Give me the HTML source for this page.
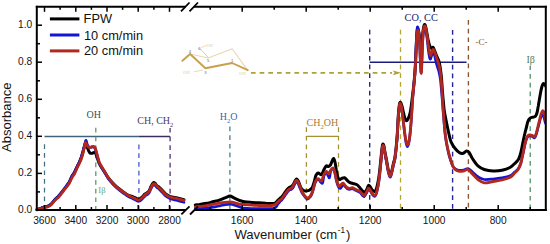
<!DOCTYPE html>
<html><head><meta charset="utf-8"><style>
html,body{margin:0;padding:0;background:#fff;width:550px;height:244px;overflow:hidden}
svg{display:block}
</style></head><body>
<svg width="550" height="244" viewBox="0 0 550 244">
<rect width="550" height="244" fill="#fff"/>

<line x1="44.5" y1="136.5" x2="138.9" y2="136.5" stroke="#3d6478" stroke-width="1.30"/>
<line x1="138.9" y1="136.5" x2="170.1" y2="136.5" stroke="#3c2d62" stroke-width="1.30"/>
<line x1="44.5" y1="144.3" x2="44.5" y2="210.0" stroke="#3f7088" stroke-width="1.25" stroke-dasharray="4.7,4"/>
<line x1="95.8" y1="127.8" x2="95.8" y2="210.0" stroke="#5a9466" stroke-width="1.25" stroke-dasharray="4.7,4"/>
<line x1="138.9" y1="144.6" x2="138.9" y2="210.0" stroke="#4a58d0" stroke-width="1.30" stroke-dasharray="4.7,4"/>
<line x1="170.1" y1="127.9" x2="170.1" y2="210.0" stroke="#573878" stroke-width="1.35" stroke-dasharray="4.7,4"/>
<line x1="229.9" y1="126.5" x2="229.9" y2="210.0" stroke="#3f7a8e" stroke-width="1.25" stroke-dasharray="4.7,4"/>
<line x1="306.4" y1="136.3" x2="338.5" y2="136.3" stroke="#a88f35" stroke-width="1.30"/>
<line x1="306.4" y1="127.2" x2="306.4" y2="210.0" stroke="#a39032" stroke-width="1.25" stroke-dasharray="4.7,4"/>
<line x1="338.5" y1="127.2" x2="338.5" y2="210.0" stroke="#a39032" stroke-width="1.25" stroke-dasharray="4.7,4"/>
<line x1="369.7" y1="62.2" x2="466.5" y2="62.2" stroke="#1a1a80" stroke-width="1.40"/>
<line x1="369.7" y1="29.8" x2="369.7" y2="210.0" stroke="#28287f" stroke-width="1.40" stroke-dasharray="4.7,4"/>
<line x1="452.6" y1="30.0" x2="452.6" y2="210.0" stroke="#24249a" stroke-width="1.40" stroke-dasharray="4.7,4"/>
<line x1="400.5" y1="29.8" x2="400.5" y2="210.0" stroke="#b5a535" stroke-width="1.30" stroke-dasharray="4.7,4"/>
<line x1="468.4" y1="20.0" x2="468.4" y2="210.0" stroke="#8a5530" stroke-width="1.35" stroke-dasharray="4.7,4"/>
<line x1="530.2" y1="65.4" x2="530.2" y2="210.0" stroke="#4a8a62" stroke-width="1.25" stroke-dasharray="4.7,4"/>
<line x1="250.9" y1="72.8" x2="392.0" y2="72.8" stroke="#b0a038" stroke-width="1.70" stroke-dasharray="4.7,4"/>
<path d="M392.8 70.4 L401 72.8 L392.8 75.2 L394.6 72.8 Z" fill="#b0a030"/>

<g fill="none" stroke-linecap="round" stroke-linejoin="round">
<path d="M190.1 54 L208.2 58 L232.1 48.8 L246.9 69.1" stroke="#e8d8b0" stroke-width="1.1"/>
<path d="M200.8 49.3 L208.2 57.5" stroke="#d8c8a0" stroke-width="0.9"/>
<path d="M202 47.3 L205.5 45.8" stroke="#e0d0a8" stroke-width="0.8"/>
<path d="M194.4 71.6 L202.6 70.2" stroke="#e0d0a8" stroke-width="0.8"/>
<path d="M182.4 60.8 L190.1 54 L205.4 68.2 L232.1 63 L247.8 70.2" stroke="#c8a04c" stroke-width="1.9"/>
</g>
<g font-family="&quot;Liberation Sans&quot;, sans-serif" font-size="4.2" fill="#7a6a58">
<text x="188.8" y="52.5">4</text><text x="207" y="61.8">5</text><text x="231" y="61.5">1</text><text x="204.2" y="73.8">3</text>
<text x="198.2" y="49.7" fill="#505070">6</text>
</g>
<g font-family="&quot;Liberation Serif&quot;, serif" font-size="4.6" fill="#dccca0">
<text x="206.3" y="46.8">OH</text><text x="183.2" y="73.6">OH</text><text x="239.2" y="75.3">OH</text>
</g>

<path d="M37.0 209.5 C37.7 209.3 39.8 208.7 41.0 208.3 C42.2 207.9 42.8 207.6 44.0 207.2 C45.2 206.8 46.8 206.6 48.0 206.1 C49.2 205.6 50.0 205.2 51.2 204.1 C52.4 203.0 53.7 200.9 55.0 199.6 C56.3 198.3 57.6 197.3 58.8 196.1 C60.0 194.8 61.0 193.4 62.0 192.1 C63.0 190.8 63.8 189.7 65.0 188.1 C66.2 186.5 67.8 184.7 69.0 182.7 C70.2 180.7 71.1 178.0 72.0 176.3 C72.9 174.6 73.7 174.1 74.5 172.5 C75.3 170.9 76.2 168.8 77.0 167.0 C77.8 165.2 78.8 163.6 79.5 162.0 C80.2 160.4 80.8 159.1 81.3 157.5 C81.8 155.9 82.3 154.2 82.8 152.5 C83.3 150.8 83.6 149.1 84.1 147.5 C84.6 145.9 85.1 143.2 85.6 143.0 C86.1 142.8 86.5 145.2 87.0 146.5 C87.5 147.8 88.0 149.4 88.5 150.5 C89.0 151.6 89.4 152.5 90.0 153.0 C90.6 153.5 91.3 153.4 92.0 153.3 C92.7 153.2 93.4 152.6 94.0 152.5 C94.6 152.4 95.0 152.2 95.5 153.0 C96.0 153.8 96.4 155.3 97.0 157.0 C97.6 158.7 98.3 161.4 99.0 163.0 C99.7 164.6 100.2 165.2 101.0 166.5 C101.8 167.8 102.8 169.2 104.0 171.0 C105.2 172.8 106.5 175.2 108.0 177.3 C109.5 179.4 111.3 181.5 113.0 183.3 C114.7 185.1 116.3 186.6 118.0 188.0 C119.7 189.4 121.3 190.6 123.0 191.8 C124.7 193.0 126.3 194.2 128.0 195.0 C129.7 195.8 131.7 196.3 133.0 196.8 C134.3 197.3 135.0 197.8 136.0 198.2 C137.0 198.6 138.0 199.4 139.0 199.2 C140.0 199.0 141.0 198.1 142.0 197.2 C143.0 196.3 144.2 194.7 145.0 194.0 C145.8 193.3 146.3 193.3 147.0 192.8 C147.7 192.3 148.3 192.1 149.0 191.0 C149.7 189.9 150.3 187.9 151.0 186.5 C151.7 185.1 152.5 183.4 153.2 182.8 C153.9 182.2 154.4 182.7 155.0 183.2 C155.6 183.7 156.2 185.1 157.0 185.8 C157.8 186.5 158.6 186.8 159.5 187.6 C160.4 188.4 161.6 189.7 162.7 190.8 C163.8 191.9 164.7 193.2 166.0 194.2 C167.3 195.2 168.6 196.0 170.5 196.6 C172.4 197.2 175.1 197.5 177.3 198.0 C179.6 198.5 182.9 199.4 184.0 199.7" fill="none" stroke="#000" stroke-width="3.0" stroke-linejoin="round" stroke-linecap="round"/>
<path d="M37.0 209.5 C37.7 209.3 39.8 208.6 41.0 208.2 C42.2 207.8 42.8 207.4 44.0 207.0 C45.2 206.6 46.8 206.4 48.0 205.9 C49.2 205.4 50.0 205.0 51.2 203.9 C52.4 202.8 53.7 200.7 55.0 199.3 C56.3 197.9 57.6 197.0 58.8 195.7 C60.0 194.4 61.0 193.0 62.0 191.7 C63.0 190.4 63.8 189.3 65.0 187.7 C66.2 186.1 67.8 184.2 69.0 182.3 C70.2 180.4 71.1 177.7 72.0 176.0 C72.9 174.3 73.7 173.8 74.5 172.2 C75.3 170.6 76.2 168.5 77.0 166.7 C77.8 164.9 78.8 163.2 79.5 161.6 C80.2 160.0 80.8 158.6 81.3 157.0 C81.8 155.4 82.3 153.7 82.8 152.0 C83.3 150.3 83.6 148.7 84.1 146.8 C84.6 144.9 85.4 140.8 85.9 140.4 C86.4 140.0 86.8 143.4 87.3 144.5 C87.8 145.6 88.4 146.5 89.0 147.0 C89.6 147.5 90.3 147.3 91.0 147.3 C91.7 147.3 92.3 146.8 93.0 147.0 C93.7 147.2 94.3 147.2 95.0 148.5 C95.7 149.8 96.3 152.7 97.0 155.0 C97.7 157.3 98.3 160.6 99.0 162.5 C99.7 164.4 100.2 165.0 101.0 166.5 C101.8 168.0 102.8 169.6 104.0 171.5 C105.2 173.4 106.5 176.0 108.0 178.1 C109.5 180.2 111.3 182.5 113.0 184.3 C114.7 186.1 116.3 187.6 118.0 189.0 C119.7 190.4 121.3 191.6 123.0 192.8 C124.7 194.0 126.3 195.3 128.0 196.3 C129.7 197.3 131.7 198.0 133.0 198.7 C134.3 199.4 135.0 199.9 136.0 200.3 C137.0 200.7 138.0 201.5 139.0 201.3 C140.0 201.1 141.0 200.1 142.0 199.2 C143.0 198.3 144.2 196.8 145.0 196.0 C145.8 195.2 146.3 195.1 147.0 194.6 C147.7 194.1 148.3 194.0 149.0 193.0 C149.7 192.0 150.3 190.0 151.0 188.7 C151.7 187.4 152.3 185.9 153.0 185.3 C153.7 184.7 154.3 184.9 155.0 185.3 C155.7 185.7 156.2 186.8 157.0 187.5 C157.8 188.2 158.6 188.6 159.5 189.5 C160.4 190.4 161.6 191.7 162.7 192.8 C163.8 193.9 164.7 195.3 166.0 196.3 C167.3 197.3 168.6 198.1 170.5 198.8 C172.4 199.5 175.1 199.9 177.3 200.5 C179.6 201.1 182.9 202.0 184.0 202.3" fill="none" stroke="#1414d2" stroke-width="2.7" stroke-linejoin="round" stroke-linecap="round"/>
<path d="M37.0 209.8 C37.7 209.6 39.8 209.0 41.0 208.7 C42.2 208.3 42.8 208.0 44.0 207.7 C45.2 207.4 46.8 207.2 48.0 206.7 C49.2 206.2 50.0 205.8 51.2 204.7 C52.4 203.6 53.7 201.6 55.0 200.3 C56.3 199.0 57.6 198.1 58.8 196.9 C60.0 195.7 61.0 194.2 62.0 192.9 C63.0 191.6 63.8 190.4 65.0 188.9 C66.2 187.4 67.8 185.6 69.0 183.7 C70.2 181.8 71.1 179.2 72.0 177.6 C72.9 175.9 73.7 175.4 74.5 173.8 C75.3 172.2 76.2 170.1 77.0 168.3 C77.8 166.5 78.8 164.8 79.5 163.2 C80.2 161.6 80.8 160.3 81.3 158.8 C81.8 157.3 82.3 155.7 82.8 154.0 C83.3 152.3 83.6 150.4 84.1 148.5 C84.5 146.6 85.1 143.5 85.5 142.8 C85.9 142.1 86.0 143.8 86.5 144.5 C87.0 145.2 87.8 146.9 88.6 147.3 C89.3 147.7 90.3 147.2 91.0 147.0 C91.7 146.8 92.3 146.2 93.0 146.3 C93.7 146.4 94.3 146.2 95.0 147.5 C95.7 148.8 96.3 151.7 97.0 154.0 C97.7 156.3 98.3 159.6 99.0 161.5 C99.7 163.4 100.2 164.0 101.0 165.5 C101.8 167.0 102.8 168.6 104.0 170.5 C105.2 172.4 106.5 175.0 108.0 177.2 C109.5 179.4 111.3 181.7 113.0 183.5 C114.7 185.3 116.3 186.8 118.0 188.2 C119.7 189.6 121.3 190.7 123.0 191.9 C124.7 193.1 126.3 194.3 128.0 195.2 C129.7 196.1 131.7 196.8 133.0 197.4 C134.3 198.0 135.0 198.6 136.0 199.0 C137.0 199.4 138.0 200.2 139.0 200.0 C140.0 199.8 141.0 198.9 142.0 198.0 C143.0 197.1 144.2 195.6 145.0 194.8 C145.8 194.0 146.3 193.9 147.0 193.4 C147.7 192.9 148.3 192.8 149.0 191.8 C149.7 190.8 150.3 188.8 151.0 187.5 C151.7 186.2 152.3 184.6 153.0 184.0 C153.7 183.4 154.3 183.6 155.0 184.0 C155.7 184.4 156.2 185.6 157.0 186.3 C157.8 187.0 158.6 187.3 159.5 188.2 C160.4 189.0 161.6 190.3 162.7 191.4 C163.8 192.5 164.7 193.9 166.0 194.9 C167.3 195.9 168.6 196.6 170.5 197.2 C172.4 197.8 175.1 198.2 177.3 198.7 C179.6 199.2 182.9 200.1 184.0 200.4" fill="none" stroke="#b3281c" stroke-width="2.8" stroke-linejoin="round" stroke-linecap="round"/>
<clipPath id="cr"><rect x="190" y="0" width="355.8" height="244"/></clipPath><g clip-path="url(#cr)">
<path d="M195.3 204.9 C196.1 204.8 198.4 204.6 200.0 204.4 C201.6 204.2 203.3 203.9 205.0 203.6 C206.7 203.3 208.3 203.0 210.0 202.6 C211.7 202.2 213.3 201.8 215.0 201.3 C216.7 200.9 218.3 200.5 220.0 199.9 C221.7 199.3 223.3 198.5 225.0 197.8 C226.7 197.2 228.7 196.1 230.0 196.0 C231.3 195.9 231.8 196.8 233.0 197.4 C234.2 198.0 235.8 198.8 237.0 199.3 C238.2 199.9 239.2 200.3 240.5 200.7 C241.8 201.1 242.6 201.5 244.5 201.8 C246.4 202.1 249.6 202.3 252.0 202.5 C254.4 202.7 256.7 202.6 259.0 202.7 C261.3 202.8 263.8 203.0 266.0 203.2 C268.2 203.3 270.5 203.6 272.0 203.6 C273.5 203.6 274.2 203.5 275.2 203.0 C276.2 202.5 277.0 201.2 277.8 200.5 C278.6 199.8 279.2 199.1 279.8 198.5 C280.4 197.9 281.1 197.7 281.7 197.0 C282.3 196.3 283.0 195.2 283.7 194.3 C284.4 193.4 285.0 192.4 285.7 191.5 C286.4 190.6 287.0 189.7 287.6 189.0 C288.2 188.3 289.0 187.7 289.6 187.3 C290.2 186.9 290.9 187.0 291.5 186.5 C292.1 186.0 292.8 185.2 293.4 184.3 C294.0 183.4 294.5 181.9 295.0 181.0 C295.5 180.1 296.1 179.1 296.6 179.0 C297.1 178.9 297.5 179.7 298.0 180.5 C298.5 181.3 299.0 182.8 299.5 184.0 C300.0 185.2 300.4 186.9 301.1 188.0 C301.8 189.1 302.8 190.0 303.6 190.5 C304.4 191.0 305.2 191.1 306.1 191.0 C307.1 190.9 308.3 190.8 309.3 190.2 C310.3 189.6 311.5 188.9 312.3 187.5 C313.1 186.1 313.7 183.5 314.3 181.5 C314.9 179.5 315.2 176.9 315.9 175.5 C316.5 174.1 317.3 173.2 318.2 173.0 C319.1 172.8 320.6 175.2 321.5 174.6 C322.4 174.0 323.1 171.2 323.9 169.7 C324.7 168.2 325.6 166.3 326.4 165.8 C327.1 165.3 327.7 166.8 328.4 166.6 C329.1 166.4 329.9 165.7 330.5 164.8 C331.1 163.9 331.6 162.1 332.1 161.0 C332.7 159.9 333.3 158.2 333.8 158.5 C334.3 158.8 334.7 160.8 335.2 163.0 C335.7 165.2 336.1 169.6 336.6 172.0 C337.1 174.4 337.5 176.2 338.0 177.5 C338.5 178.8 338.9 179.4 339.5 179.5 C340.1 179.6 341.1 178.6 341.9 178.3 C342.7 178.0 343.7 177.6 344.5 177.8 C345.3 178.0 345.9 179.0 346.5 179.6 C347.1 180.2 347.6 181.0 348.4 181.6 C349.1 182.2 350.1 182.7 351.0 183.0 C351.9 183.3 352.8 183.5 353.7 183.7 C354.6 183.9 355.6 184.1 356.3 184.4 C357.1 184.7 357.6 185.1 358.2 185.7 C358.8 186.3 359.4 187.2 360.2 188.2 C361.0 189.1 362.1 190.7 362.8 191.4 C363.5 192.1 363.8 192.8 364.5 192.5 C365.2 192.2 366.2 190.7 366.8 189.5 C367.4 188.3 367.9 186.1 368.4 185.6 C368.9 185.1 369.3 185.6 370.0 186.4 C370.7 187.2 371.7 189.5 372.5 190.3 C373.3 191.2 374.1 191.8 374.8 191.5 C375.5 191.2 376.0 190.1 376.5 188.5 C377.0 186.9 377.5 184.4 378.0 182.0 C378.5 179.6 378.9 177.3 379.3 174.0 C379.7 170.7 380.2 165.8 380.6 162.0 C381.0 158.2 381.4 153.9 381.7 151.0 C382.0 148.1 382.3 145.2 382.7 144.3 C383.1 143.4 383.5 144.6 383.8 145.5 C384.1 146.4 384.1 147.1 384.5 149.5 C384.9 151.9 385.8 156.4 386.5 160.0 C387.2 163.6 387.9 168.5 388.5 171.0 C389.1 173.5 389.5 174.8 390.0 175.0 C390.5 175.2 390.9 174.0 391.5 172.0 C392.1 170.0 392.9 165.5 393.5 163.0 C394.1 160.5 394.4 161.2 395.0 157.0 C395.6 152.8 396.4 145.3 397.0 138.0 C397.6 130.7 398.0 118.9 398.5 113.0 C399.0 107.1 399.3 104.2 399.8 102.8 C400.3 101.4 401.0 103.2 401.5 104.5 C402.0 105.8 402.5 108.4 403.0 110.5 C403.5 112.6 404.0 115.3 404.5 117.0 C405.0 118.7 405.5 120.0 406.0 120.5 C406.5 121.0 407.0 120.7 407.5 120.0 C408.0 119.3 408.5 118.0 409.0 116.5 C409.5 115.0 410.0 114.0 410.5 111.0 C411.0 108.0 411.7 102.7 412.2 98.5 C412.7 94.3 413.3 89.7 413.7 85.6 C414.1 81.5 414.5 78.1 414.8 74.0 C415.1 69.9 415.4 65.5 415.6 61.0 C415.8 56.5 416.0 51.2 416.2 47.0 C416.4 42.8 416.6 38.8 416.8 36.0 C417.0 33.2 417.1 31.2 417.3 30.0 C417.5 28.8 417.7 28.8 417.9 29.0 C418.1 29.2 418.4 30.0 418.7 31.5 C419.0 33.0 419.3 35.6 419.6 38.0 C419.9 40.4 420.2 44.0 420.4 46.0 C420.6 48.0 420.8 50.2 421.0 50.0 C421.2 49.8 421.4 47.3 421.7 45.0 C421.9 42.7 422.2 38.7 422.5 36.0 C422.8 33.3 423.0 30.8 423.3 29.0 C423.6 27.2 423.9 25.7 424.2 25.0 C424.5 24.3 424.9 24.3 425.2 25.0 C425.5 25.7 425.7 26.6 426.2 29.0 C426.7 31.4 427.4 36.6 428.0 39.5 C428.6 42.4 429.4 45.0 430.0 46.5 C430.6 48.0 431.0 48.4 431.5 48.5 C432.0 48.6 432.5 47.0 433.0 47.3 C433.5 47.6 433.9 49.2 434.5 50.5 C435.1 51.8 435.7 53.5 436.3 55.0 C436.9 56.5 437.8 58.3 438.3 59.6 C438.8 60.9 439.0 61.4 439.4 63.0 C439.8 64.6 440.1 66.7 440.4 69.0 C440.7 71.3 441.1 73.8 441.4 77.0 C441.7 80.2 441.9 84.2 442.2 88.0 C442.5 91.8 442.8 96.2 443.2 100.0 C443.6 103.8 443.8 107.7 444.3 111.0 C444.8 114.3 445.3 116.5 446.0 120.0 C446.7 123.5 447.7 128.4 448.5 132.0 C449.3 135.6 450.0 139.1 451.0 141.8 C452.0 144.5 453.3 146.2 454.7 148.0 C456.1 149.8 458.2 151.9 459.6 152.8 C461.0 153.7 462.2 153.6 463.3 153.3 C464.4 153.0 465.5 151.1 466.5 151.0 C467.5 150.9 468.4 151.6 469.4 152.8 C470.4 154.1 470.9 156.3 472.4 158.5 C473.9 160.7 476.3 164.4 478.3 166.2 C480.3 168.0 481.8 168.7 484.2 169.5 C486.6 170.3 490.0 170.9 493.0 171.0 C496.0 171.1 499.2 170.9 502.0 170.3 C504.8 169.7 507.9 168.6 510.0 167.5 C512.1 166.4 513.3 164.8 514.7 163.5 C516.1 162.2 517.4 161.2 518.4 159.5 C519.4 157.8 520.0 155.7 520.6 153.5 C521.2 151.3 521.6 148.9 522.1 146.5 C522.6 144.1 523.1 141.3 523.6 139.0 C524.1 136.7 524.6 134.5 525.1 132.5 C525.6 130.5 526.0 128.8 526.5 127.0 C527.0 125.2 527.3 123.1 527.8 121.8 C528.3 120.5 528.7 119.7 529.3 119.0 C529.9 118.3 530.7 117.8 531.3 117.5 C531.9 117.2 532.5 117.3 533.0 117.2 C533.5 117.1 534.1 117.1 534.6 116.8 C535.1 116.5 535.6 116.1 536.0 115.3 C536.4 114.5 536.8 113.5 537.2 112.0 C537.6 110.5 537.9 108.0 538.3 106.0 C538.6 104.0 538.9 102.2 539.3 100.0 C539.7 97.8 540.1 95.2 540.5 93.0 C540.9 90.8 541.4 88.5 541.8 87.0 C542.2 85.5 542.6 84.5 543.0 84.0 C543.4 83.5 543.8 83.6 544.3 84.0 C544.8 84.4 545.7 86.1 546.0 86.5" fill="none" stroke="#000" stroke-width="3.0" stroke-linejoin="round" stroke-linecap="round"/>
<path d="M195.3 208.6 C196.1 208.6 198.4 208.6 200.0 208.5 C201.6 208.4 203.3 208.3 205.0 208.2 C206.7 208.0 208.3 207.8 210.0 207.6 C211.7 207.4 213.3 207.1 215.0 206.8 C216.7 206.5 218.3 206.2 220.0 205.8 C221.7 205.5 223.3 205.0 225.0 204.7 C226.7 204.4 228.7 204.1 230.0 204.1 C231.3 204.1 231.8 204.3 233.0 204.6 C234.2 204.9 235.8 205.6 237.0 206.0 C238.2 206.4 239.2 206.9 240.5 207.3 C241.8 207.7 242.6 208.0 244.5 208.2 C246.4 208.4 249.4 208.5 252.0 208.6 C254.6 208.7 257.7 208.7 260.0 208.7 C262.3 208.7 263.8 208.7 266.0 208.7 C268.2 208.7 271.3 208.8 273.0 208.5 C274.7 208.2 275.2 207.8 276.0 207.0 C276.8 206.2 277.3 204.9 278.0 204.0 C278.7 203.1 279.4 202.2 280.0 201.5 C280.6 200.8 281.1 200.7 281.7 200.0 C282.3 199.3 283.0 198.2 283.7 197.3 C284.4 196.4 285.0 195.4 285.7 194.5 C286.4 193.6 287.0 192.6 287.6 191.8 C288.2 191.1 289.0 190.4 289.6 190.0 C290.2 189.6 290.9 189.8 291.5 189.3 C292.1 188.8 292.8 188.0 293.4 187.0 C294.0 186.0 294.5 184.4 295.0 183.5 C295.5 182.6 295.8 181.7 296.3 181.5 C296.8 181.3 297.3 181.6 297.8 182.5 C298.3 183.4 298.9 185.6 299.5 187.0 C300.1 188.4 300.6 189.8 301.2 191.0 C301.8 192.2 301.9 192.7 302.8 194.0 C303.8 195.3 305.7 198.5 306.9 199.0 C308.1 199.5 309.2 198.2 310.2 197.0 C311.1 195.8 311.8 194.3 312.6 192.0 C313.4 189.7 314.2 185.1 315.1 183.0 C316.0 180.9 317.0 179.4 318.2 179.5 C319.4 179.6 321.4 184.1 322.3 183.5 C323.2 182.9 323.2 177.8 323.9 176.0 C324.6 174.2 325.5 172.2 326.4 172.5 C327.3 172.8 328.6 178.1 329.3 178.0 C330.0 177.9 329.9 173.6 330.5 172.0 C331.1 170.4 332.3 168.5 333.0 168.5 C333.7 168.5 334.0 169.8 334.6 172.0 C335.2 174.2 336.0 179.0 336.6 181.5 C337.2 184.0 337.9 185.8 338.5 187.0 C339.1 188.2 339.5 188.5 340.0 188.5 C340.5 188.5 341.0 187.7 341.5 187.0 C342.0 186.3 342.6 184.6 343.2 184.5 C343.8 184.4 344.5 185.8 345.1 186.5 C345.8 187.2 346.3 188.0 347.1 188.5 C347.9 189.0 348.8 189.3 349.7 189.3 C350.6 189.3 351.4 188.6 352.3 188.7 C353.2 188.8 354.1 189.6 355.0 190.0 C355.9 190.4 356.7 190.9 357.6 191.3 C358.5 191.7 359.4 192.0 360.2 192.6 C361.0 193.2 361.5 194.3 362.2 195.0 C362.9 195.7 363.5 196.9 364.3 196.5 C365.1 196.1 366.1 193.8 366.8 192.5 C367.5 191.2 367.9 189.3 368.4 189.0 C368.9 188.7 369.3 189.6 370.0 190.5 C370.7 191.4 371.7 193.6 372.5 194.6 C373.3 195.6 374.3 196.6 375.0 196.3 C375.7 196.0 376.1 194.8 376.6 193.0 C377.1 191.2 377.7 188.4 378.2 185.5 C378.7 182.6 379.2 179.2 379.6 175.5 C380.0 171.8 380.4 167.2 380.8 163.5 C381.2 159.8 381.5 155.9 381.8 153.0 C382.1 150.1 382.5 147.1 382.9 146.2 C383.3 145.3 383.8 146.7 384.1 147.5 C384.4 148.3 384.1 148.6 384.5 151.0 C384.9 153.4 385.8 158.3 386.5 162.0 C387.2 165.7 387.9 170.5 388.5 173.0 C389.1 175.5 389.5 176.8 390.0 177.0 C390.5 177.2 390.9 176.0 391.5 174.0 C392.1 172.0 392.9 167.6 393.5 165.0 C394.1 162.4 394.4 162.8 395.0 158.5 C395.6 154.2 396.4 146.8 397.0 139.5 C397.6 132.2 398.0 120.4 398.5 114.5 C399.0 108.6 399.3 105.4 399.8 104.3 C400.3 103.2 401.0 105.5 401.5 108.0 C402.0 110.5 402.5 115.0 403.0 119.0 C403.5 123.0 404.0 128.1 404.5 132.0 C405.0 135.9 405.5 140.1 406.0 142.5 C406.5 144.9 406.9 146.3 407.3 146.5 C407.8 146.7 408.2 145.4 408.7 143.5 C409.1 141.6 409.5 139.4 410.0 135.0 C410.5 130.6 411.1 123.0 411.5 117.0 C411.9 111.0 412.2 104.2 412.6 99.0 C413.0 93.8 413.4 89.6 413.8 85.5 C414.2 81.4 414.5 78.6 414.8 74.5 C415.1 70.4 415.3 65.8 415.5 61.0 C415.7 56.2 415.9 50.5 416.1 46.0 C416.3 41.5 416.5 37.1 416.7 34.0 C416.9 30.9 417.1 28.6 417.3 27.5 C417.5 26.4 417.7 26.9 417.9 27.5 C418.1 28.1 418.4 28.9 418.6 31.0 C418.9 33.1 419.1 35.5 419.4 40.0 C419.7 44.5 420.0 53.0 420.2 58.0 C420.4 63.0 420.6 67.5 420.8 70.0 C421.0 72.5 421.0 73.0 421.1 73.0 C421.2 73.0 421.4 72.5 421.5 70.0 C421.6 67.5 421.8 62.5 422.0 58.0 C422.2 53.5 422.4 47.2 422.6 43.0 C422.8 38.8 423.0 35.5 423.3 33.0 C423.6 30.5 423.9 28.8 424.2 28.0 C424.5 27.2 424.9 27.3 425.2 28.0 C425.5 28.7 425.8 29.8 426.2 32.0 C426.6 34.2 427.0 37.8 427.4 41.0 C427.8 44.2 428.1 48.0 428.5 51.0 C428.9 54.0 429.6 58.2 430.1 59.0 C430.6 59.8 431.0 57.2 431.5 56.0 C432.0 54.8 432.5 52.2 433.0 52.0 C433.5 51.8 434.0 53.3 434.5 55.0 C435.0 56.7 435.5 60.0 436.0 62.0 C436.5 64.0 437.0 65.3 437.5 67.0 C438.0 68.7 438.5 69.8 439.0 72.0 C439.5 74.2 440.1 76.7 440.5 80.0 C440.9 83.3 441.2 88.0 441.6 92.0 C442.0 96.0 442.3 99.8 442.6 104.0 C442.9 108.2 443.2 112.5 443.6 117.0 C444.0 121.5 444.4 127.0 444.8 131.0 C445.2 135.0 445.5 137.3 446.1 141.0 C446.7 144.7 447.8 149.8 448.5 153.0 C449.2 156.2 449.7 157.7 450.5 160.0 C451.3 162.3 452.1 165.3 453.3 167.0 C454.5 168.7 456.0 169.5 457.7 170.0 C459.4 170.5 461.9 170.2 463.6 170.0 C465.3 169.8 466.5 168.2 468.0 168.5 C469.5 168.8 470.7 170.6 472.4 172.0 C474.1 173.4 476.3 175.8 478.3 177.0 C480.3 178.2 481.7 179.2 484.2 179.5 C486.7 179.8 490.2 179.3 493.1 179.0 C496.1 178.7 498.9 178.4 501.9 177.8 C504.8 177.2 508.7 176.5 510.8 175.5 C512.9 174.5 513.4 173.2 514.7 172.0 C516.0 170.8 517.4 170.0 518.4 168.5 C519.4 167.0 520.2 165.1 520.9 163.0 C521.6 160.9 522.0 158.0 522.5 156.0 C523.0 154.0 523.2 153.0 523.6 151.0 C524.0 149.0 524.6 146.0 525.1 144.0 C525.6 142.0 526.0 140.2 526.5 139.0 C527.0 137.8 527.4 137.0 528.0 136.5 C528.6 136.0 529.5 136.0 530.2 136.0 C530.9 136.0 531.7 136.2 532.4 136.5 C533.1 136.8 533.9 138.1 534.5 137.8 C535.1 137.5 535.7 136.1 536.2 134.5 C536.8 132.9 537.2 130.6 537.8 128.5 C538.3 126.4 539.0 124.0 539.5 122.0 C540.0 120.0 540.6 117.7 541.1 116.5 C541.6 115.3 542.1 114.8 542.6 115.0 C543.1 115.2 543.6 116.2 544.0 117.5 C544.4 118.8 544.9 121.4 545.2 122.5 C545.5 123.6 545.9 123.8 546.0 124.0" fill="none" stroke="#1414d2" stroke-width="2.7" stroke-linejoin="round" stroke-linecap="round"/>
<path d="M195.3 206.9 C196.1 206.8 198.4 206.7 200.0 206.5 C201.6 206.3 203.3 206.1 205.0 205.8 C206.7 205.5 208.3 205.2 210.0 204.9 C211.7 204.6 213.3 204.3 215.0 204.0 C216.7 203.7 218.3 203.3 220.0 203.0 C221.7 202.7 223.3 202.5 225.0 202.3 C226.7 202.1 228.7 202.0 230.0 202.0 C231.3 202.0 231.8 202.2 233.0 202.4 C234.2 202.6 235.8 203.1 237.0 203.4 C238.2 203.7 239.2 204.1 240.5 204.3 C241.8 204.5 242.6 204.3 244.5 204.5 C246.4 204.7 249.6 205.0 252.0 205.2 C254.4 205.4 256.7 205.4 259.0 205.5 C261.3 205.6 263.8 205.6 266.0 205.6 C268.2 205.6 270.5 205.7 272.0 205.5 C273.5 205.3 274.2 205.1 275.2 204.5 C276.2 203.9 277.0 202.8 277.8 202.0 C278.6 201.2 279.2 200.6 279.8 200.0 C280.4 199.4 281.1 199.3 281.7 198.6 C282.3 197.9 283.0 196.9 283.7 196.0 C284.4 195.1 285.0 194.1 285.7 193.2 C286.4 192.3 287.0 191.3 287.6 190.6 C288.2 189.9 289.0 189.2 289.6 188.8 C290.2 188.4 290.9 188.6 291.5 188.0 C292.1 187.4 292.8 186.5 293.4 185.5 C294.0 184.5 294.5 182.9 295.0 182.0 C295.5 181.1 295.8 180.4 296.3 180.3 C296.8 180.2 297.3 180.5 297.8 181.3 C298.3 182.1 298.9 183.6 299.5 185.0 C300.1 186.4 300.6 188.2 301.2 189.5 C301.8 190.8 301.9 191.6 302.8 193.0 C303.8 194.4 305.7 197.4 306.9 197.9 C308.1 198.4 309.2 197.3 310.2 196.2 C311.1 195.1 311.8 193.6 312.6 191.3 C313.4 189.0 314.2 184.4 315.1 182.3 C316.0 180.2 317.1 178.9 318.2 178.7 C319.3 178.5 320.6 181.8 321.5 181.1 C322.4 180.4 323.1 176.2 323.9 174.6 C324.7 173.0 325.6 171.4 326.4 171.3 C327.2 171.2 328.2 173.9 328.9 173.8 C329.6 173.7 329.8 171.5 330.5 170.5 C331.2 169.5 332.3 167.9 333.0 168.0 C333.7 168.1 334.0 169.2 334.6 171.3 C335.2 173.4 336.0 178.1 336.6 180.5 C337.2 182.9 338.0 184.6 338.5 185.5 C339.0 186.4 339.1 186.4 339.5 186.2 C339.9 186.0 340.6 184.9 341.2 184.4 C341.8 183.9 342.5 182.9 343.2 183.1 C343.9 183.3 344.5 184.8 345.1 185.5 C345.8 186.2 346.3 187.0 347.1 187.5 C347.9 188.0 348.8 188.3 349.7 188.3 C350.6 188.3 351.4 187.6 352.3 187.7 C353.2 187.8 354.1 188.6 355.0 189.0 C355.9 189.4 356.7 189.9 357.6 190.3 C358.5 190.7 359.4 191.0 360.2 191.6 C361.0 192.2 361.5 193.4 362.2 194.0 C362.9 194.6 363.5 195.8 364.3 195.4 C365.1 195.0 366.1 192.7 366.8 191.5 C367.5 190.3 367.9 188.5 368.4 188.2 C368.9 187.9 369.3 188.8 370.0 189.7 C370.7 190.6 371.7 192.9 372.5 193.8 C373.3 194.8 374.3 195.7 375.0 195.4 C375.7 195.1 376.1 193.9 376.6 192.1 C377.1 190.3 377.7 187.7 378.2 184.8 C378.7 182.0 379.2 178.6 379.6 175.0 C380.0 171.4 380.4 166.8 380.8 163.0 C381.2 159.2 381.5 155.4 381.8 152.5 C382.1 149.6 382.4 146.5 382.8 145.6 C383.2 144.7 383.7 146.2 384.0 147.0 C384.3 147.8 384.1 148.2 384.5 150.5 C384.9 152.8 385.8 157.4 386.5 161.0 C387.2 164.6 387.9 169.5 388.5 172.0 C389.1 174.5 389.5 175.8 390.0 176.0 C390.5 176.2 390.9 175.0 391.5 173.0 C392.1 171.0 392.9 166.5 393.5 164.0 C394.1 161.5 394.4 162.2 395.0 158.0 C395.6 153.8 396.4 146.3 397.0 139.0 C397.6 131.7 398.0 119.9 398.5 114.0 C399.0 108.1 399.3 105.0 399.8 103.8 C400.3 102.6 401.0 104.6 401.5 107.0 C402.0 109.4 402.5 114.0 403.0 118.0 C403.5 122.0 404.0 127.2 404.5 131.0 C405.0 134.8 405.5 138.7 406.0 141.0 C406.5 143.3 406.9 144.8 407.3 145.0 C407.8 145.2 408.2 144.3 408.7 142.5 C409.1 140.7 409.5 138.4 410.0 134.0 C410.5 129.6 411.1 122.0 411.5 116.0 C411.9 110.0 412.3 103.2 412.7 98.0 C413.1 92.8 413.5 89.0 413.9 85.0 C414.3 81.0 414.6 78.0 414.9 74.0 C415.2 70.0 415.5 65.5 415.7 61.0 C415.9 56.5 416.1 51.2 416.3 47.0 C416.5 42.8 416.7 38.6 416.9 36.0 C417.1 33.4 417.3 32.4 417.5 31.5 C417.7 30.6 417.9 30.2 418.1 30.5 C418.3 30.8 418.6 31.6 418.8 33.5 C419.1 35.4 419.4 37.9 419.6 42.0 C419.9 46.1 420.1 53.3 420.3 58.0 C420.5 62.7 420.7 67.4 420.8 70.0 C420.9 72.6 421.1 73.5 421.2 73.5 C421.3 73.5 421.5 72.6 421.6 70.0 C421.7 67.4 421.8 62.7 422.0 58.0 C422.2 53.3 422.4 46.5 422.6 42.0 C422.8 37.5 423.0 33.6 423.3 31.0 C423.6 28.4 423.9 27.2 424.2 26.5 C424.5 25.8 424.9 25.9 425.2 26.5 C425.5 27.1 425.8 28.1 426.2 30.0 C426.6 31.9 427.0 35.3 427.4 38.0 C427.8 40.7 428.1 43.5 428.5 46.0 C428.9 48.5 429.2 51.4 429.6 53.0 C430.0 54.6 430.4 55.8 430.8 55.5 C431.2 55.2 431.8 52.0 432.2 51.0 C432.6 50.0 433.0 49.2 433.5 49.5 C434.0 49.8 434.4 51.5 435.0 53.0 C435.6 54.5 436.2 56.9 436.8 58.5 C437.4 60.1 437.9 61.1 438.3 62.5 C438.8 63.9 439.1 65.1 439.5 67.0 C439.9 68.9 440.2 71.0 440.6 74.0 C441.0 77.0 441.3 80.7 441.6 85.0 C441.9 89.3 442.3 95.0 442.6 100.0 C442.9 105.0 443.2 110.0 443.6 115.0 C444.0 120.0 444.4 125.8 444.8 130.0 C445.2 134.2 445.5 136.3 446.1 140.0 C446.7 143.7 447.8 148.8 448.5 152.0 C449.2 155.2 449.7 156.5 450.5 159.0 C451.3 161.5 452.1 165.0 453.3 167.0 C454.5 169.0 456.0 170.3 457.7 171.0 C459.4 171.7 461.9 171.2 463.6 171.0 C465.3 170.8 466.5 169.0 468.0 169.5 C469.5 170.0 470.7 172.2 472.4 173.9 C474.1 175.6 476.3 178.3 478.3 179.8 C480.3 181.3 481.7 182.5 484.2 182.8 C486.7 183.1 490.2 182.0 493.1 181.5 C496.1 181.0 498.9 180.8 501.9 180.0 C504.8 179.2 508.7 178.2 510.8 177.0 C512.9 175.8 513.4 174.3 514.7 173.0 C516.0 171.7 517.4 170.8 518.4 169.1 C519.4 167.4 520.2 165.3 520.9 163.0 C521.6 160.7 522.0 157.6 522.5 155.5 C523.0 153.4 523.2 152.6 523.6 150.5 C524.0 148.4 524.6 145.2 525.1 143.2 C525.6 141.2 526.0 139.8 526.5 138.5 C527.0 137.2 527.4 136.1 528.0 135.5 C528.6 134.9 529.5 135.0 530.2 135.0 C530.9 135.0 531.7 135.3 532.4 135.6 C533.1 135.9 533.9 137.2 534.5 136.8 C535.1 136.5 535.7 135.1 536.2 133.5 C536.8 131.9 537.2 129.2 537.8 127.0 C538.3 124.8 539.0 122.6 539.5 120.4 C540.0 118.2 540.6 115.4 541.1 113.8 C541.6 112.2 542.3 110.7 542.8 110.6 C543.3 110.5 543.8 111.9 544.2 113.3 C544.6 114.7 544.9 117.7 545.2 119.0 C545.5 120.3 545.9 120.7 546.0 121.0" fill="none" stroke="#b3281c" stroke-width="2.8" stroke-linejoin="round" stroke-linecap="round"/>
</g>
<line x1="36.8" y1="5.8" x2="36.8" y2="211.0" stroke="#000" stroke-width="2.00" />
<line x1="545.8" y1="5.8" x2="545.8" y2="211.0" stroke="#000" stroke-width="2.00" />
<line x1="35.8" y1="6.8" x2="185.4" y2="6.8" stroke="#000" stroke-width="2.00" />
<line x1="193.9" y1="6.8" x2="546.8" y2="6.8" stroke="#000" stroke-width="2.00" />
<line x1="35.8" y1="210.0" x2="186.0" y2="210.0" stroke="#000" stroke-width="2.00" />
<line x1="194.6" y1="210.0" x2="546.8" y2="210.0" stroke="#000" stroke-width="2.00" />
<line x1="181.0" y1="11.4" x2="189.5" y2="2.5" stroke="#000" stroke-width="1.80" />
<line x1="189.5" y1="11.4" x2="198.0" y2="2.5" stroke="#000" stroke-width="1.80" />
<line x1="181.4" y1="214.4" x2="189.5" y2="206.4" stroke="#000" stroke-width="1.80" />
<line x1="190.0" y1="214.5" x2="198.0" y2="206.5" stroke="#000" stroke-width="1.80" />
<line x1="36.8" y1="191.9" x2="40.0" y2="191.9" stroke="#000" stroke-width="1.50" />
<line x1="36.8" y1="173.4" x2="42.0" y2="173.4" stroke="#000" stroke-width="1.50" />
<line x1="36.8" y1="154.8" x2="40.0" y2="154.8" stroke="#000" stroke-width="1.50" />
<line x1="36.8" y1="136.3" x2="42.0" y2="136.3" stroke="#000" stroke-width="1.50" />
<line x1="36.8" y1="117.8" x2="40.0" y2="117.8" stroke="#000" stroke-width="1.50" />
<line x1="36.8" y1="99.3" x2="42.0" y2="99.3" stroke="#000" stroke-width="1.50" />
<line x1="36.8" y1="80.8" x2="40.0" y2="80.8" stroke="#000" stroke-width="1.50" />
<line x1="36.8" y1="62.2" x2="42.0" y2="62.2" stroke="#000" stroke-width="1.50" />
<line x1="36.8" y1="43.7" x2="40.0" y2="43.7" stroke="#000" stroke-width="1.50" />
<line x1="36.8" y1="25.2" x2="42.0" y2="25.2" stroke="#000" stroke-width="1.50" />
<line x1="44.5" y1="210.0" x2="44.5" y2="205.0" stroke="#000" stroke-width="1.50" />
<line x1="44.5" y1="6.8" x2="44.5" y2="11.8" stroke="#000" stroke-width="1.50" />
<line x1="60.1" y1="210.0" x2="60.1" y2="207.0" stroke="#000" stroke-width="1.50" />
<line x1="60.1" y1="6.8" x2="60.1" y2="9.8" stroke="#000" stroke-width="1.50" />
<line x1="75.8" y1="210.0" x2="75.8" y2="205.0" stroke="#000" stroke-width="1.50" />
<line x1="75.8" y1="6.8" x2="75.8" y2="11.8" stroke="#000" stroke-width="1.50" />
<line x1="91.4" y1="210.0" x2="91.4" y2="207.0" stroke="#000" stroke-width="1.50" />
<line x1="91.4" y1="6.8" x2="91.4" y2="9.8" stroke="#000" stroke-width="1.50" />
<line x1="107.0" y1="210.0" x2="107.0" y2="205.0" stroke="#000" stroke-width="1.50" />
<line x1="107.0" y1="6.8" x2="107.0" y2="11.8" stroke="#000" stroke-width="1.50" />
<line x1="122.6" y1="210.0" x2="122.6" y2="207.0" stroke="#000" stroke-width="1.50" />
<line x1="122.6" y1="6.8" x2="122.6" y2="9.8" stroke="#000" stroke-width="1.50" />
<line x1="138.2" y1="210.0" x2="138.2" y2="205.0" stroke="#000" stroke-width="1.50" />
<line x1="138.2" y1="6.8" x2="138.2" y2="11.8" stroke="#000" stroke-width="1.50" />
<line x1="153.9" y1="210.0" x2="153.9" y2="207.0" stroke="#000" stroke-width="1.50" />
<line x1="153.9" y1="6.8" x2="153.9" y2="9.8" stroke="#000" stroke-width="1.50" />
<line x1="169.5" y1="210.0" x2="169.5" y2="205.0" stroke="#000" stroke-width="1.50" />
<line x1="169.5" y1="6.8" x2="169.5" y2="11.8" stroke="#000" stroke-width="1.50" />
<line x1="210.2" y1="210.0" x2="210.2" y2="207.0" stroke="#000" stroke-width="1.50" />
<line x1="210.2" y1="6.8" x2="210.2" y2="9.8" stroke="#000" stroke-width="1.50" />
<line x1="242.2" y1="210.0" x2="242.2" y2="205.0" stroke="#000" stroke-width="1.50" />
<line x1="242.2" y1="6.8" x2="242.2" y2="11.8" stroke="#000" stroke-width="1.50" />
<line x1="274.2" y1="210.0" x2="274.2" y2="207.0" stroke="#000" stroke-width="1.50" />
<line x1="274.2" y1="6.8" x2="274.2" y2="9.8" stroke="#000" stroke-width="1.50" />
<line x1="306.2" y1="210.0" x2="306.2" y2="205.0" stroke="#000" stroke-width="1.50" />
<line x1="306.2" y1="6.8" x2="306.2" y2="11.8" stroke="#000" stroke-width="1.50" />
<line x1="338.2" y1="210.0" x2="338.2" y2="207.0" stroke="#000" stroke-width="1.50" />
<line x1="338.2" y1="6.8" x2="338.2" y2="9.8" stroke="#000" stroke-width="1.50" />
<line x1="370.2" y1="210.0" x2="370.2" y2="205.0" stroke="#000" stroke-width="1.50" />
<line x1="370.2" y1="6.8" x2="370.2" y2="11.8" stroke="#000" stroke-width="1.50" />
<line x1="402.2" y1="210.0" x2="402.2" y2="207.0" stroke="#000" stroke-width="1.50" />
<line x1="402.2" y1="6.8" x2="402.2" y2="9.8" stroke="#000" stroke-width="1.50" />
<line x1="434.2" y1="210.0" x2="434.2" y2="205.0" stroke="#000" stroke-width="1.50" />
<line x1="434.2" y1="6.8" x2="434.2" y2="11.8" stroke="#000" stroke-width="1.50" />
<line x1="466.2" y1="210.0" x2="466.2" y2="207.0" stroke="#000" stroke-width="1.50" />
<line x1="466.2" y1="6.8" x2="466.2" y2="9.8" stroke="#000" stroke-width="1.50" />
<line x1="498.2" y1="210.0" x2="498.2" y2="205.0" stroke="#000" stroke-width="1.50" />
<line x1="498.2" y1="6.8" x2="498.2" y2="11.8" stroke="#000" stroke-width="1.50" />
<line x1="530.2" y1="210.0" x2="530.2" y2="207.0" stroke="#000" stroke-width="1.50" />
<line x1="530.2" y1="6.8" x2="530.2" y2="9.8" stroke="#000" stroke-width="1.50" />
<g font-family="&quot;Liberation Sans&quot;, sans-serif" font-size="10.2" fill="#151515">
<text x="32.2" y="213.0" text-anchor="end">0.0</text>
<text x="32.2" y="176.0" text-anchor="end">0.2</text>
<text x="32.2" y="138.9" text-anchor="end">0.4</text>
<text x="32.2" y="101.9" text-anchor="end">0.6</text>
<text x="32.2" y="64.8" text-anchor="end">0.8</text>
<text x="32.2" y="27.8" text-anchor="end">1.0</text>
<text x="44.5" y="224.1" text-anchor="middle">3600</text>
<text x="75.8" y="224.1" text-anchor="middle">3400</text>
<text x="107.0" y="224.1" text-anchor="middle">3200</text>
<text x="138.2" y="224.1" text-anchor="middle">3000</text>
<text x="169.5" y="224.1" text-anchor="middle">2800</text>
<text x="242.2" y="224.1" text-anchor="middle">1600</text>
<text x="306.2" y="224.1" text-anchor="middle">1400</text>
<text x="370.2" y="224.1" text-anchor="middle">1200</text>
<text x="434.2" y="224.1" text-anchor="middle">1000</text>
<text x="498.2" y="224.1" text-anchor="middle">800</text>
</g>
<text x="234.4" y="238.9" font-family="&quot;Liberation Sans&quot;, sans-serif" font-size="13.1" fill="#151515">Wavenumber (cm<tspan font-size="8.2" dy="-5.8" dx="0.6">-1</tspan><tspan dy="5.8" dx="0.8">)</tspan></text>
<text transform="translate(11.4,117.2) rotate(-90)" text-anchor="middle" font-family="&quot;Liberation Sans&quot;, sans-serif" font-size="13" fill="#151515">Absorbance</text>
<line x1="49.9" y1="18.9" x2="79.4" y2="18.9" stroke="#000" stroke-width="3"/>
<line x1="49.9" y1="35" x2="79.4" y2="35" stroke="#1414d2" stroke-width="3"/>
<line x1="49.9" y1="50.9" x2="79.4" y2="50.9" stroke="#b3281c" stroke-width="3"/>
<g font-family="&quot;Liberation Sans&quot;, sans-serif" font-size="12.8" fill="#111">
<text x="83.6" y="23">FPW</text><text x="84" y="39.6">10 cm/min</text><text x="84" y="54.9">20 cm/min</text>
</g>
<g font-family="&quot;Liberation Serif&quot;, serif" font-size="10">
<text x="86.6" y="117.6" fill="#3a5050">OH</text>
<text x="137.3" y="124.2" fill="#4a3c66">CH, CH<tspan font-size="6.5" dy="3">2</tspan></text>
<text x="219.8" y="119.8" fill="#3f5fb5">H<tspan font-size="6.5" dy="3">2</tspan><tspan dy="-3">O</tspan></text>
<text x="306.5" y="126.4" fill="#a87a35">CH<tspan font-size="6.5" dy="2.5">2</tspan><tspan dy="-2.5">OH</tspan></text>
<text x="404.6" y="20.9" fill="#22226e" font-size="10.3">CO, CC</text>
<text x="475.5" y="44.8" fill="#94502e" font-size="9">-C-</text>
<text x="98.3" y="192.5" fill="#6aa46a" font-size="8.6">Iβ</text>
<text x="526.4" y="63" fill="#4a8062">Iβ</text>
</g>
</svg></body></html>
